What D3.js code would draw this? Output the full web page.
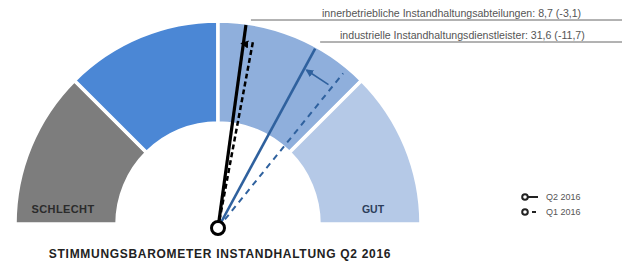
<!DOCTYPE html>
<html lang="de">
<head>
<meta charset="UTF-8">
<script src="https://d3js.org/d3.v7.min.js"></script>
<style>
  body { margin: 0; background: #fff; }
  svg { display: block; font-family: "Liberation Sans", Arial, sans-serif; }
</style>
</head>
<body>
<svg width="622" height="262"></svg>
<script>
// --- data ---
var bands = [-100, -50, 0, 50, 100];                 // segment limits of the barometer
var bandLabels = ["SCHLECHT", "", "", "GUT"];
var bandColors = ["#7d7d7d", "#4b87d5", "#8fafdc", "#b5c9e7"];
var groups = ["innerbetriebliche Instandhaltungsabteilungen", "industrielle Instandhaltungsdienstleister"];
var q2 = [8.7, 31.6];
var change = [-3.1, -11.7];
var q1 = [11.8, 43.3];
var needleColors = ["#000000", "#2f619e"];
var periods = ["Q2 2016", "Q1 2016"];
var title = "STIMMUNGSBAROMETER INSTANDHALTUNG Q2 2016";

var svg = d3.select("svg");
var cx = 218, cy = 224;       // arc centre
var px = 218, py = 228;       // needle pivot

var angle = d3.scaleLinear().domain([-100, 100]).range([-Math.PI / 2, Math.PI / 2]);

var arc = d3.arc().innerRadius(101).outerRadius(203);

var g = svg.append("g").attr("transform", "translate(" + cx + "," + cy + ")");

// segments
g.selectAll("path.band")
  .data(d3.range(bands.length - 1))
  .join("path")
  .attr("class", "band")
  .attr("d", function(i) { return arc({startAngle: angle(bands[i]), endAngle: angle(bands[i + 1])}); })
  .attr("fill", function(i) { return bandColors[i]; })
  .attr("stroke", "#fff")
  .attr("stroke-width", 3.5);

// segment labels
svg.append("text").attr("x", 63).attr("y", 213).attr("text-anchor", "middle")
  .attr("font-size", 11).attr("font-weight", "bold").attr("letter-spacing", 0.4).attr("fill", "#2b2b2b")
  .text(bandLabels[0]);
svg.append("text").attr("x", 373).attr("y", 213).attr("text-anchor", "middle")
  .attr("font-size", 10.5).attr("font-weight", "bold").attr("fill", "#2c3d5a")
  .text(bandLabels[3]);

function pt(v, r) {
  var a = angle(v);
  return [px + r * Math.sin(a), py - r * Math.cos(a)];
}

var defs = svg.append("defs");
needleColors.forEach(function(c, i) {
  defs.append("marker").attr("id", "ah" + i)
    .attr("viewBox", "0 0 10 10").attr("refX", 8).attr("refY", 5)
    .attr("markerWidth", 5).attr("markerHeight", 5).attr("orient", "auto")
    .append("path").attr("d", "M0,0L10,5L0,10z").attr("fill", c);
});

var lensQ2 = [205, 204];
var lensQ1 = [192, 199];
var arrowR = [186, 181];
var leaderY = [20, 42];
var labelX = [322, 340];

groups.forEach(function(name, i) {
  var c = needleColors[i];
  // Q1 dashed
  var t1 = pt(q1[i], lensQ1[i]);
  svg.append("line").attr("x1", px).attr("y1", py).attr("x2", t1[0]).attr("y2", t1[1])
    .attr("stroke", c).attr("stroke-width", i === 0 ? 2.5 : 2)
    .attr("stroke-dasharray", i === 0 ? "5,3" : "6,5");
  // Q2 solid
  var t2 = pt(q2[i], lensQ2[i]);
  svg.append("line").attr("x1", px).attr("y1", py).attr("x2", t2[0]).attr("y2", t2[1])
    .attr("stroke", c).attr("stroke-width", i === 0 ? 3.2 : 2.6);
  // change arrow
  var a0 = pt(q1[i] - 1.5, arrowR[i]), a1 = pt(q2[i] - (i === 0 ? 0.5 : -1), arrowR[i]);
  svg.append("line").attr("x1", a0[0]).attr("y1", a0[1]).attr("x2", a1[0]).attr("y2", a1[1])
    .attr("stroke", c).attr("stroke-width", 1.6).attr("marker-end", "url(#ah" + i + ")");
  // leader + label
  svg.append("line").attr("x1", t2[0] + 5).attr("y1", leaderY[i]).attr("x2", 622).attr("y2", leaderY[i])
    .attr("stroke", "#666").attr("stroke-width", 1);
  svg.append("text").attr("x", labelX[i]).attr("y", leaderY[i] - 3)
    .attr("font-size", 10.6).attr("fill", "#555")
    .text(name + ": " + d3.format(".1f")(q2[i]).replace(".", ",") + " (" + d3.format(".1f")(change[i]).replace(".", ",").replace("−", "-") + ")");
});

// pivot
svg.append("circle").attr("cx", px).attr("cy", py).attr("r", 6.5)
  .attr("fill", "#fff").attr("stroke", "#000").attr("stroke-width", 3);

// legend
var lg = svg.append("g").attr("transform", "translate(525,197)");
periods.forEach(function(p, i) {
  var row = lg.append("g").attr("transform", "translate(0," + i * 15 + ")");
  row.append("line").attr("x1", 2).attr("x2", i === 0 ? 13 : 11).attr("y1", 0).attr("y2", 0)
    .attr("stroke", "#222").attr("stroke-width", 2)
    .attr("stroke-dasharray", i === 0 ? null : "0,5,5,5");
  row.append("circle").attr("r", 2.8).attr("fill", "#fff").attr("stroke", "#222").attr("stroke-width", 2);
  row.append("text").attr("x", 21).attr("y", 3).attr("font-size", 9).attr("fill", "#555").text(p);
});

// title
svg.append("text").attr("x", 220).attr("y", 258).attr("text-anchor", "middle")
  .attr("font-size", 12).attr("font-weight", "bold").attr("letter-spacing", 0.7).attr("fill", "#222")
  .text(title);
</script>
</body>
</html>
